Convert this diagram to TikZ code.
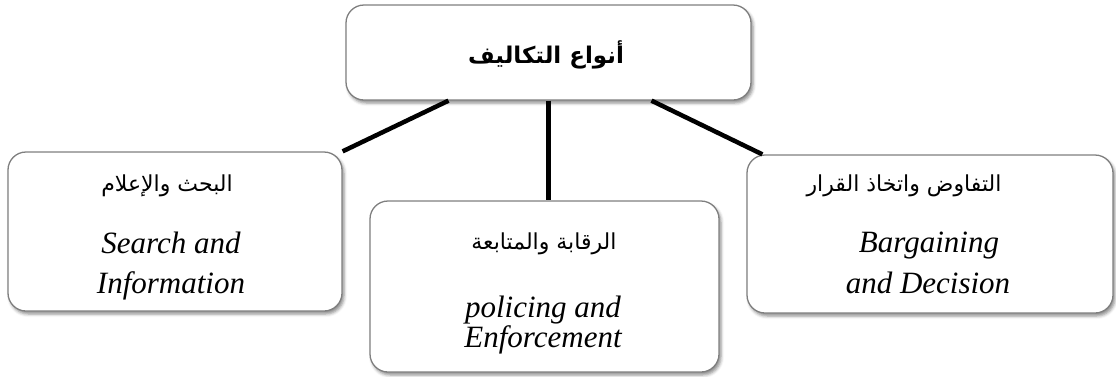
\documentclass[tikz,border=0pt]{standalone}
\usepackage{fontspec}
\setmainfont{Liberation Serif}
\newfontfamily\arabicfont[Script=Arabic]{DejaVu Sans}
\TeXXeTstate=1
\usetikzlibrary{shadows.blur}
\definecolor{boxgrey}{HTML}{7F7F7F}

\begin{document}
\begin{tikzpicture}[x=1pt,y=-1pt,
  box/.style={draw=boxgrey, line width=1.3pt, rounded corners=18pt, fill=white,
    inner sep=0pt,
    blur shadow={shadow xshift=2pt, shadow yshift=-3pt, shadow blur radius=3pt, shadow opacity=45}},
  link/.style={line width=4.5pt, black},
  ar/.style={font=\arabicfont\fontsize{22}{26}\selectfont, anchor=base, inner sep=0pt},
  arb/.style={ar, font=\arabicfont\bfseries\fontsize{23}{27}\selectfont},
  en/.style={font=\itshape\fontsize{31}{36}\selectfont, anchor=base, inner sep=0pt}]
\useasboundingbox (0,0) rectangle (1116,376);

% boxes
\node[box, minimum width=405pt, minimum height=95pt]  (top)   at (548.5,52.5) {};
\node[box, minimum width=334pt, minimum height=159pt] (left)  at (175,231.5) {};
\node[box, minimum width=349pt, minimum height=171pt] (mid)   at (544.5,286.5) {};
\node[box, minimum width=366pt, minimum height=158pt] (right) at (930,234) {};

% connectors
\draw[link] ([xshift=-100pt]top.south) -- (left.north east);
\draw[link] (top.south) -- (mid.north -| top.south);
\draw[link] ([xshift=103pt]top.south) -- ([xshift=16pt]right.north west);

% labels
\node[arb] (ttitle) at (546,63) {\beginR أنواع التكاليف\endR};

\node[ar] (lar) at (167,191) {\beginR البحث والإعلام\endR};
\node[en] (len1) at (171,253) {Search and};
\node[en] (len2) at (171,293) {Information};

\node[ar] (mar) at (544,249) {\beginR الرقابة والمتابعة\endR};
\node[en] (men1) at (543,317) {policing and};
\node[en] (men2) at (543,347) {Enforcement};

\node[ar] (rar) at (904,191) {\beginR التفاوض واتخاذ القرار\endR};
\node[en] (ren1) at (929,252) {Bargaining};
\node[en] (ren2) at (928,293) {and Decision};
\end{tikzpicture}
\end{document}
